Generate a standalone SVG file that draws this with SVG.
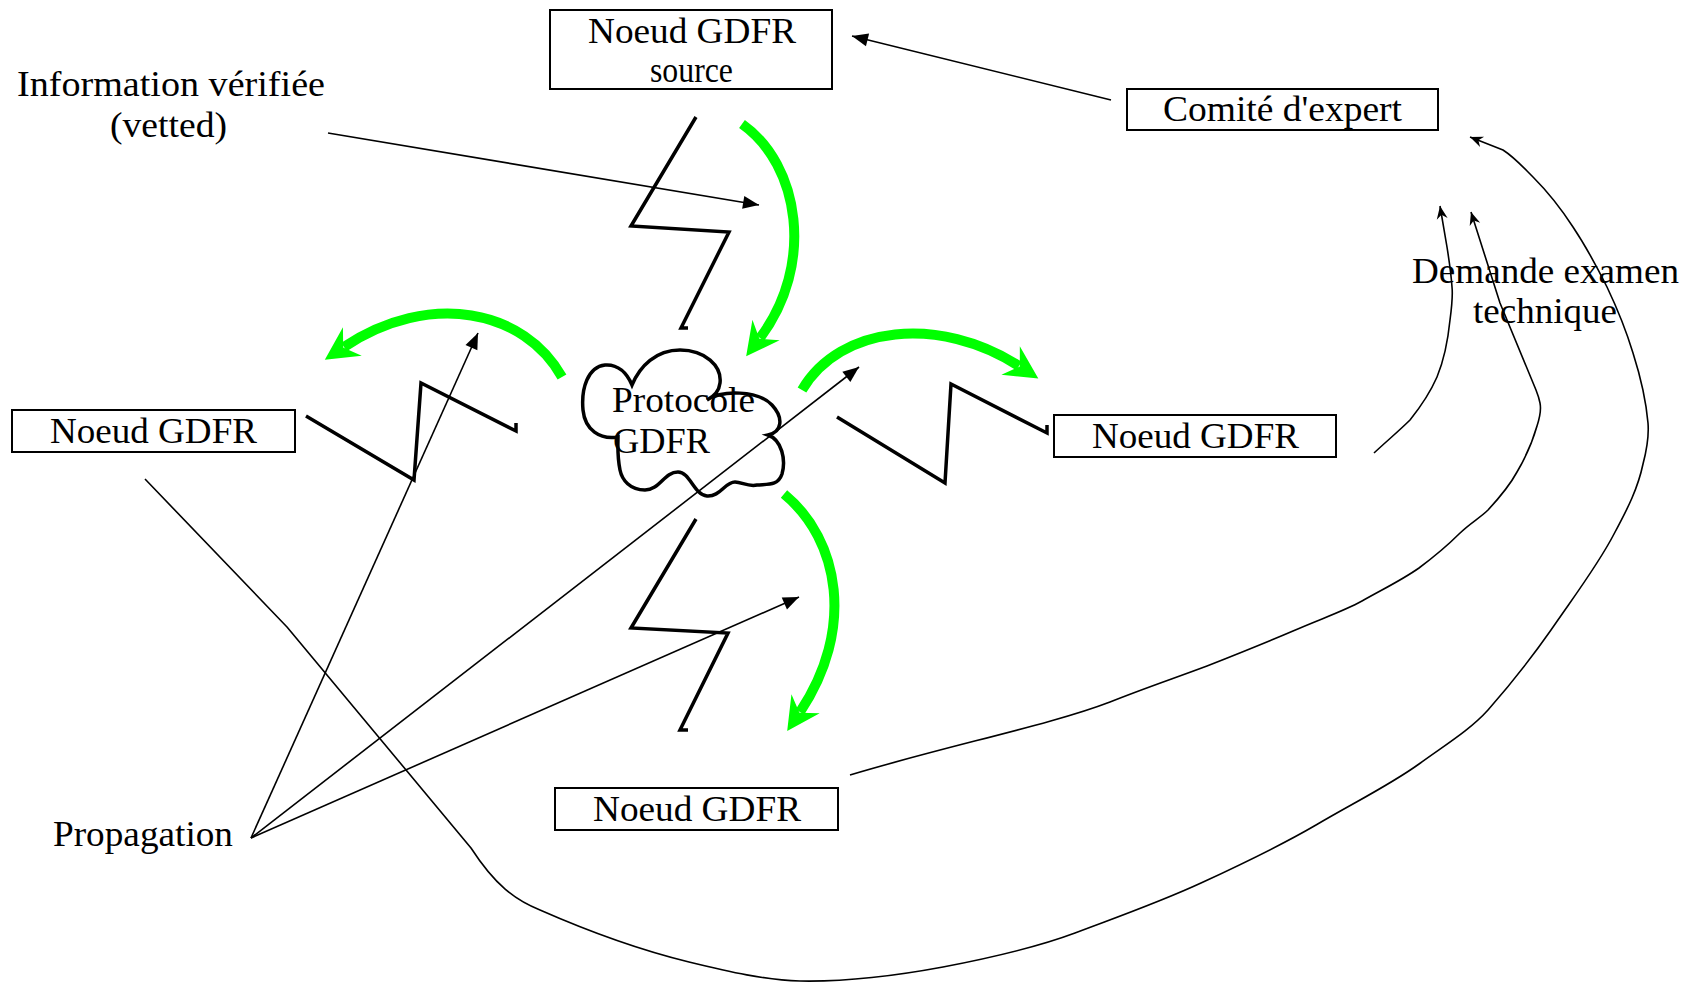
<svg xmlns="http://www.w3.org/2000/svg" width="1699" height="982" viewBox="0 0 1699 982">
<style>
.box{fill:#fff;stroke:#000;stroke-width:2}
.t{font-family:"Liberation Serif","Times New Roman",serif;font-size:36px;fill:#000}
.thin{fill:none;stroke:#000;stroke-width:1.6;stroke-linejoin:round}
.bolt{fill:none;stroke:#000;stroke-width:3.5;stroke-linejoin:miter}
.green{fill:none;stroke:#00FF00;stroke-width:10}
.cloud{fill:none;stroke:#000;stroke-width:3.5}
</style>
<defs>
<marker id="tri" markerUnits="userSpaceOnUse" orient="auto" refX="0" refY="0" overflow="visible">
<path d="M-16,-6.5 L0,0 L-16,6.5 Z" fill="#000"/>
</marker>
<marker id="vee" markerUnits="userSpaceOnUse" orient="auto" refX="0" refY="0" overflow="visible">
<path d="M-13,-5.5 L0,0 L-13,5.5 L-9,0 Z" fill="#000"/>
</marker>
<marker id="garrow" markerUnits="userSpaceOnUse" orient="auto" refX="0" refY="0" overflow="visible">
<path d="M-10,-17 L23,0 L-10,17 L1,0 Z" fill="#00FF00"/>
</marker>
</defs>
<rect width="1699" height="982" fill="#fff"/>

<g id="connectors">
<g id="bolts">
<polyline class="bolt" points="696,117 631,226 729,232 681,328 688,328"/>
<polyline class="bolt" points="696,519 631,628 728,633 680,730 688,730"/>
<polyline class="bolt" points="306,416 414,480 421,383 516,431 516,423"/>
<polyline class="bolt" points="837,417 945,483 951,384 1047,433 1047,425"/>
</g>
<g id="green-arrows">
<path class="green" d="M742,124 C800,165 815,265 760,338" marker-end="url(#garrow)"/>
<path class="green" d="M784,494 C840,540 855,630 800,712" marker-end="url(#garrow)"/>
<path class="green" d="M562,377 C525,310 430,290 344,347" marker-end="url(#garrow)"/>
<path class="green" d="M802,390 C840,325 940,315 1019,366" marker-end="url(#garrow)"/>
</g>
<g id="thin-arrows">
<line class="thin" x1="328" y1="133" x2="759" y2="205" marker-end="url(#tri)"/>
<line class="thin" x1="1111" y1="100" x2="852" y2="36" marker-end="url(#tri)"/>
<line class="thin" x1="251" y1="838" x2="478" y2="333" marker-end="url(#tri)"/>
<line class="thin" x1="251" y1="838" x2="859" y2="367" marker-end="url(#tri)"/>
<line class="thin" x1="251" y1="838" x2="799" y2="597" marker-end="url(#tri)"/>
</g>
<g id="review-curves">
<path class="thin" d="M145,479 L287,627 L471,848 C495,885 515,900 540,910 C590,932 640,950 689,962 C730,972 765,980 800,981 C850,982 900,975 943,967 C990,958 1035,948 1075,933 C1120,916 1160,902 1201,883 C1240,865 1280,846 1316,825 C1355,802 1390,785 1419,764 C1445,745 1470,730 1488,710 C1510,685 1530,660 1551,630 C1575,595 1598,565 1614,534 C1628,508 1638,488 1643,464 C1648,445 1649,435 1648,423 C1646,400 1640,375 1633,353 C1626,330 1617,308 1607,287 C1596,265 1585,245 1573,227 C1560,207 1546,190 1533,177 C1522,166 1514,157 1503,150 L1470,137" marker-end="url(#vee)"/>
<path class="thin" d="M850,775 C950,745 1050,725 1110,702 C1145,688 1175,678 1207,666 C1240,653 1265,643 1293,631 C1320,619 1342,612 1362,601 C1385,588 1402,580 1419,568 C1435,556 1447,546 1459,534 C1470,523 1480,518 1488,510 C1500,497 1510,485 1517,472 C1527,455 1533,440 1537,426 C1541,414 1541,408 1540,403 C1539,398 1538,395 1536,390 L1500,303 L1471,212" marker-end="url(#vee)"/>
<path class="thin" d="M1374,453 C1388,440 1400,430 1410,420 C1422,405 1430,393 1437,377 C1444,360 1448,340 1450,320 C1452,305 1453,296 1452,287 C1451,272 1449,260 1447,247 L1440,206" marker-end="url(#vee)"/>
</g>
</g>

<g id="node-source">
<rect class="box" x="550" y="10" width="282" height="79"/>
<text class="t" x="588" y="43" textLength="208" lengthAdjust="spacingAndGlyphs">Noeud GDFR</text>
<text class="t" x="650" y="82" textLength="83" lengthAdjust="spacingAndGlyphs">source</text>
</g>
<g id="node-comite">
<rect class="box" x="1127" y="89" width="311" height="41"/>
<text class="t" x="1163" y="121" textLength="239" lengthAdjust="spacingAndGlyphs">Comité d'expert</text>
</g>
<g id="node-left">
<rect class="box" x="12" y="410" width="283" height="42"/>
<text class="t" x="50" y="443" textLength="207" lengthAdjust="spacingAndGlyphs">Noeud GDFR</text>
</g>
<g id="node-right">
<rect class="box" x="1054" y="415" width="282" height="42"/>
<text class="t" x="1092" y="448" textLength="207" lengthAdjust="spacingAndGlyphs">Noeud GDFR</text>
</g>
<g id="node-bottom">
<rect class="box" x="555" y="788" width="283" height="42"/>
<text class="t" x="593" y="821" textLength="208" lengthAdjust="spacingAndGlyphs">Noeud GDFR</text>
</g>
<g id="node-protocole">
<path class="cloud" d="M632,385 C640,366 656,350 680,350 C705,350 722,366 720,383 C719,392 713,397 707,400 C722,390 758,390 772,405 C784,418 782,432 768,435 C782,440 786,460 782,474 C778,486 768,484 757,485 C748,487 742,482 735,482 C725,482 720,497 707,496 C694,495 690,472 678,472 C664,472 660,490 645,490 C630,490 622,480 620,470 C617,455 618,445 618,437 C600,440 585,430 583,410 C581,388 588,367 605,365 C618,364 627,373 632,385 Z"/>
<text class="t" x="612" y="412" textLength="143" lengthAdjust="spacingAndGlyphs">Protocole</text>
<text class="t" x="613" y="453" textLength="97" lengthAdjust="spacingAndGlyphs">GDFR</text>
</g>
<g id="labels">
<text class="t" x="17" y="96" textLength="308" lengthAdjust="spacingAndGlyphs">Information vérifiée</text>
<text class="t" x="110" y="137" textLength="117" lengthAdjust="spacingAndGlyphs">(vetted)</text>
<text class="t" x="53" y="846" textLength="180" lengthAdjust="spacingAndGlyphs">Propagation</text>
<text class="t" x="1412" y="283" textLength="267" lengthAdjust="spacingAndGlyphs">Demande examen</text>
<text class="t" x="1473" y="323" textLength="144" lengthAdjust="spacingAndGlyphs">technique</text>
</g>
</svg>
